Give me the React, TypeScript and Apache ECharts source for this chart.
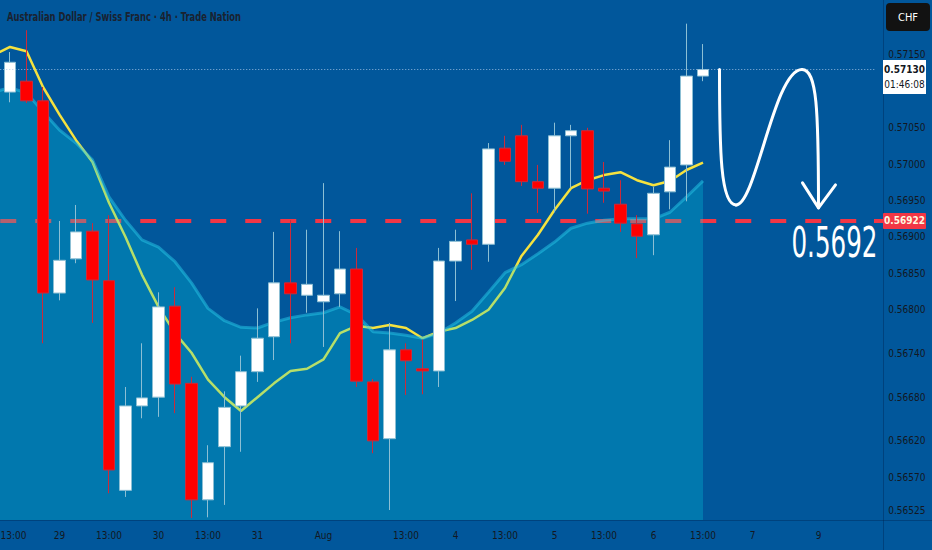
import React, { useEffect, useRef } from "react";
import * as echarts from "echarts";

// ---- data -----------------------------------------------------------------
// x slots: slot 0 is one candle before the first visible candle, slots 44..53 are future space
const X_LABELS = [
  "", "13:00", "", "", "29", "", "", "13:00", "", "", "30", "", "", "13:00", "", "", "31", "", "", "",
  "Aug", "", "", "", "", "13:00", "", "", "4", "", "", "13:00", "", "", "5", "", "", "13:00", "", "",
  "6", "", "", "13:00", "", "", "7", "", "", "", "9", "", "", "",
];

const OPEN = [
  0.57099, 0.57114, 0.57087, 0.56823, 0.5687, 0.56908, 0.5684, 0.56552, 0.56668, 0.5668,
  0.56805, 0.56699, 0.56539, 0.56612, 0.56668, 0.56715, 0.56763, 0.56837, 0.5682, 0.56811,
  0.56822, 0.56856, 0.56701, 0.56623, 0.56745, 0.56719, 0.56716, 0.56867, 0.56896, 0.5689,
  0.57022, 0.57039, 0.56976, 0.56967, 0.57039, 0.57046, 0.56967, 0.56945, 0.56918, 0.56903,
  0.56962, 0.56999, 0.57121,
];
const CLOSE = [
  0.5714, 0.57087, 0.56823, 0.56868, 0.56907, 0.56841, 0.5658, 0.56668, 0.56679, 0.56804,
  0.56698, 0.56539, 0.5659, 0.56666, 0.56715, 0.56761, 0.56837, 0.56822, 0.56835, 0.5682,
  0.56856, 0.56702, 0.5662, 0.56745, 0.5673, 0.56716, 0.56867, 0.56894, 0.5689, 0.57021,
  0.57004, 0.56976, 0.56967, 0.57039, 0.57046, 0.56966, 0.56963, 0.56919, 0.56901, 0.5696,
  0.56996, 0.57121, 0.5713,
];
const LOW = [
  0.57085, 0.57084, 0.56754, 0.56813, 0.56864, 0.56782, 0.56548, 0.56543, 0.56651, 0.56653,
  0.56658, 0.56514, 0.56515, 0.56532, 0.56605, 0.56701, 0.56731, 0.56754, 0.56796, 0.56749,
  0.56804, 0.56694, 0.56603, 0.56525, 0.56683, 0.56684, 0.56694, 0.56812, 0.56855, 0.56866,
  0.56999, 0.5697, 0.56933, 0.56934, 0.56967, 0.56932, 0.56947, 0.56907, 0.56871, 0.56875,
  0.56938, 0.56949, 0.57114,
];
const HIGH = [
  0.57154, 0.57184, 0.57106, 0.56922, 0.56944, 0.56919, 0.5693, 0.56694, 0.56754, 0.56824,
  0.56831, 0.56708, 0.56614, 0.56688, 0.56737, 0.56802, 0.56907, 0.56923, 0.5691, 0.56974,
  0.56908, 0.56885, 0.56705, 0.56782, 0.56754, 0.56759, 0.56885, 0.5691, 0.5696, 0.57029,
  0.57039, 0.57054, 0.56999, 0.57057, 0.57054, 0.5705, 0.57003, 0.56978, 0.5693, 0.56969,
  0.57033, 0.57193, 0.57165,
];

// fast moving average (yellow line), slot 0 .. 43
const FAST_MA = [
  0.5715, 0.57161, 0.57155, 0.57106, 0.57068, 0.57033, 0.57003, 0.56947, 0.569, 0.56848,
  0.56804, 0.56768, 0.56741, 0.56704, 0.5668, 0.56661, 0.5668, 0.56699, 0.56716, 0.56719,
  0.56732, 0.56768, 0.56778, 0.56775, 0.56779, 0.56775, 0.56761, 0.5677, 0.56775, 0.56786,
  0.568, 0.5683, 0.56874, 0.56903, 0.56937, 0.56967, 0.56978, 0.56985, 0.56989, 0.56978,
  0.56971, 0.56977, 0.56992, 0.57002,
];
// slow moving average (shaded area), slot 0 .. 43
const SLOW_MA = [
  0.57099, 0.57105, 0.57098, 0.57072, 0.57047, 0.57029, 0.57006, 0.56955, 0.56923, 0.56896,
  0.56886, 0.56866, 0.56837, 0.56802, 0.56785, 0.56776, 0.56775, 0.56783, 0.56789, 0.56793,
  0.56796, 0.56804, 0.56793, 0.5677, 0.56768, 0.56765, 0.56761, 0.56768, 0.56782, 0.56798,
  0.56824, 0.56851, 0.56862, 0.56877, 0.56893, 0.56912, 0.56919, 0.56923, 0.56925, 0.56925,
  0.56925, 0.56934, 0.56955, 0.56977,
];

const Y_TICKS = [0.5715, 0.5705, 0.57, 0.5695, 0.569, 0.5685, 0.568, 0.5674, 0.5668, 0.5662, 0.5657, 0.56525];
const Y_MIN = 0.565113;
const Y_MAX = 0.572255;

const CURRENT_PRICE = 0.5713;
const CURRENT_PRICE_TEXT = "0.57130";
const COUNTDOWN_TEXT = "01:46:08";
const TARGET_PRICE = 0.56922;
const TARGET_PRICE_TEXT = "0.56922";
const TARGET_BIG_TEXT = "0.5692";
const TITLE = "Australian Dollar / Swiss Franc · 4h · Trade Nation";
const CURRENCY = "CHF";
// hand-drawn arrow path: [slot, price]
const ARROW_POINTS: [number, number][] = [
  [44, 0.5713],
  [45, 0.56944],
  [49, 0.5713],
  [50, 0.5694],
];

// ---- styles -----------------------------------------------------------------
const BG = "#01579B";
const NARROW = "'DejaVu Sans Condensed', 'Liberation Sans Narrow', sans-serif";
const LABEL_COLOR = "#131722";

export default function App() {
  const ref = useRef<HTMLDivElement>(null);

  useEffect(() => {
    const el = ref.current;
    if (!el) return;
    const chart = echarts.init(el, null, { renderer: "svg" });

    const categories = X_LABELS.map((_, i) => "s" + i);
    const firstLabelIdx = X_LABELS.findIndex((l) => l !== "");
    const candleData: any[] = categories.map((_, i) => {
      const k = i - 1;
      if (k < 0 || k >= OPEN.length) return "-";
      return [OPEN[k], CLOSE[k], LOW[k], HIGH[k]];
    });

    chart.setOption({
      animation: false,
      backgroundColor: BG,
      grid: { left: -14.75, right: 55.75, top: 0, bottom: 30, containLabel: false, outerBoundsMode: "none" },
      xAxis: {
        type: "category",
        data: categories,
        boundaryGap: true,
        axisLine: { show: false },
        axisTick: { show: false },
        splitLine: { show: false },
        axisLabel: {
          interval: (idx: number) => X_LABELS[idx] !== "",
          formatter: (_v: string, idx: number) =>
            idx === firstLabelIdx ? "{first|" + X_LABELS[idx] + "}" : X_LABELS[idx],
          color: LABEL_COLOR,
          fontSize: 10,
          fontFamily: NARROW,
          margin: 10,
          rich: {
            first: { padding: [0, 0, 0, 7], color: LABEL_COLOR, fontSize: 10, fontFamily: NARROW },
          },
        },
      },
      yAxis: {
        type: "value",
        position: "right",
        min: Y_MIN,
        max: Y_MAX,
        scale: true,
        axisLine: { show: false },
        axisTick: { show: false },
        splitLine: { show: false },
        axisLabel: {
          customValues: Y_TICKS,
          formatter: (v: number) => v.toFixed(5),
          color: LABEL_COLOR,
          fontSize: 10,
          fontFamily: NARROW,
          margin: 12,
          align: "left",
        },
      },
      series: [
        {
          name: "fast",
          type: "line",
          data: FAST_MA,
          symbol: "none",
          z: 1,
          lineStyle: { color: "#F5E23F", width: 2.5 },
          silent: true,
          markLine: {
            silent: true,
            z: 1,
            precision: 5,
            symbol: ["none", "none"],
            label: { show: false },
            lineStyle: { color: "#F23645", width: 4, type: [16, 19], dashOffset: 20 },
            emphasis: { disabled: true },
            data: [{ yAxis: TARGET_PRICE }],
          },
        },
        {
          name: "slow",
          type: "line",
          data: SLOW_MA,
          symbol: "none",
          z: 2,
          lineStyle: { color: "rgba(40,200,232,0.5)", width: 3 },
          areaStyle: { color: "rgba(4,218,229,0.37)" },
          silent: true,
        },
        {
          name: "price",
          type: "candlestick",
          data: candleData,
          z: 3,
          barWidth: 12,
          itemStyle: {
            color: "#FFFFFF",
            color0: "#FF0000",
            borderColor: "#8cbfd4",
            borderColor0: "#cc2a3a",
            borderWidth: 1,
          },
          silent: true,
          markLine: {
            silent: true,
            precision: 5,
            symbol: ["none", "none"],
            label: { show: false },
            lineStyle: { color: "rgba(170,200,230,0.85)", width: 1, type: [1, 2] },
            emphasis: { disabled: true },
            data: [{ yAxis: CURRENT_PRICE }],
          },
        },
      ],
    });

    const py = (p: number) => chart.convertToPixel({ yAxisIndex: 0 }, p) as number;
    const px = (s: number) => chart.convertToPixel({ xAxisIndex: 0 }, s) as number;
    const yCur = py(CURRENT_PRICE);
    const yTgt = py(TARGET_PRICE);
    const pts = ARROW_POINTS.map(([s, p]) => [px(s), py(p)]);
    const [p0, p1, p2, p3] = pts;
    const arrowStyle = { stroke: "#FFFFFF", lineWidth: 3, fill: "none", lineCap: "round", lineJoin: "round" };

    chart.setOption({
      graphic: [
        { type: "line", silent: true, z: 20, shape: { x1: 883.5, y1: 0, x2: 883.5, y2: 550 }, style: { stroke: "rgba(0,30,70,0.35)", lineWidth: 1 } },
        { type: "line", silent: true, z: 20, shape: { x1: 0, y1: 520.5, x2: 932, y2: 520.5 }, style: { stroke: "rgba(0,30,70,0.35)", lineWidth: 1 } },
        {
          type: "text", silent: true, z: 20, x: 7, y: 17, scaleX: 0.745,
          style: { text: TITLE, fill: "#1a2230", fontSize: 12.5, fontFamily: NARROW, fontWeight: "bold", verticalAlign: "middle" },
        },
        { type: "rect", silent: true, z: 20, shape: { x: 886, y: 3, width: 44, height: 28, r: 4 }, style: { fill: "#121212" } },
        {
          type: "text", silent: true, z: 21, x: 908, y: 17,
          style: { text: CURRENCY, fill: "#FFFFFF", fontSize: 11, fontFamily: NARROW, align: "center", verticalAlign: "middle" },
        },
        { type: "rect", silent: true, z: 20, shape: { x: 883, y: yCur - 9.5, width: 43, height: 34 }, style: { fill: "#FFFFFF" } },
        {
          type: "text", silent: true, z: 21, x: 904.5, y: yCur,
          style: { text: CURRENT_PRICE_TEXT, fill: "#131722", fontSize: 10, fontWeight: "bold", fontFamily: NARROW, align: "center", verticalAlign: "middle" },
        },
        {
          type: "text", silent: true, z: 21, x: 904.5, y: yCur + 15,
          style: { text: COUNTDOWN_TEXT, fill: "#131722", fontSize: 10, fontFamily: NARROW, align: "center", verticalAlign: "middle" },
        },
        { type: "rect", silent: true, z: 20, shape: { x: 874, y: yTgt - 2, width: 10, height: 4 }, style: { fill: "#F23645" } },
        { type: "rect", silent: true, z: 20, shape: { x: 883, y: yTgt - 8, width: 43, height: 16, r: 1 }, style: { fill: "#F23645" } },
        {
          type: "text", silent: true, z: 21, x: 904.5, y: yTgt,
          style: { text: TARGET_PRICE_TEXT, fill: "#FFF6E0", fontSize: 10, fontWeight: "bold", fontFamily: NARROW, align: "center", verticalAlign: "middle" },
        },
        {
          type: "bezierCurve", silent: true, z: 20,
          shape: { x1: p0[0], y1: p0[1], cpx1: p0[0], cpy1: p0[1] + 0.6 * (p1[1] - p0[1]), cpx2: p0[0] + 1, cpy2: p1[1], x2: p1[0], y2: p1[1] },
          style: arrowStyle,
        },
        {
          type: "bezierCurve", silent: true, z: 20,
          shape: { x1: p1[0], y1: p1[1], cpx1: p1[0] + 20, cpy1: p1[1], cpx2: p2[0] - 28, cpy2: p2[1], x2: p2[0], y2: p2[1] },
          style: arrowStyle,
        },
        {
          type: "bezierCurve", silent: true, z: 20,
          shape: { x1: p2[0], y1: p2[1], cpx1: p2[0] + 15, cpy1: p2[1], cpx2: p3[0], cpy2: p2[1] + 40, x2: p3[0], y2: p3[1] },
          style: arrowStyle,
        },
        {
          type: "polyline", silent: true, z: 20,
          shape: { points: [[p3[0] - 16, p3[1] - 25], [p3[0], p3[1]], [p3[0] + 17, p3[1] - 23]] },
          style: arrowStyle,
        },
        {
          type: "text", silent: true, z: 20, x: p3[0] - 27, y: yTgt + 21, scaleX: 0.65,
          style: { text: TARGET_BIG_TEXT, fill: "#FFFFFF", fontSize: 42, fontFamily: NARROW, verticalAlign: "middle" },
        },
      ],
    });

    return () => chart.dispose();
  }, []);

  return (
    <div
      ref={ref}
      style={{ position: "fixed", left: 0, top: 0, width: 932, height: 550, background: BG }}
    />
  );
}
